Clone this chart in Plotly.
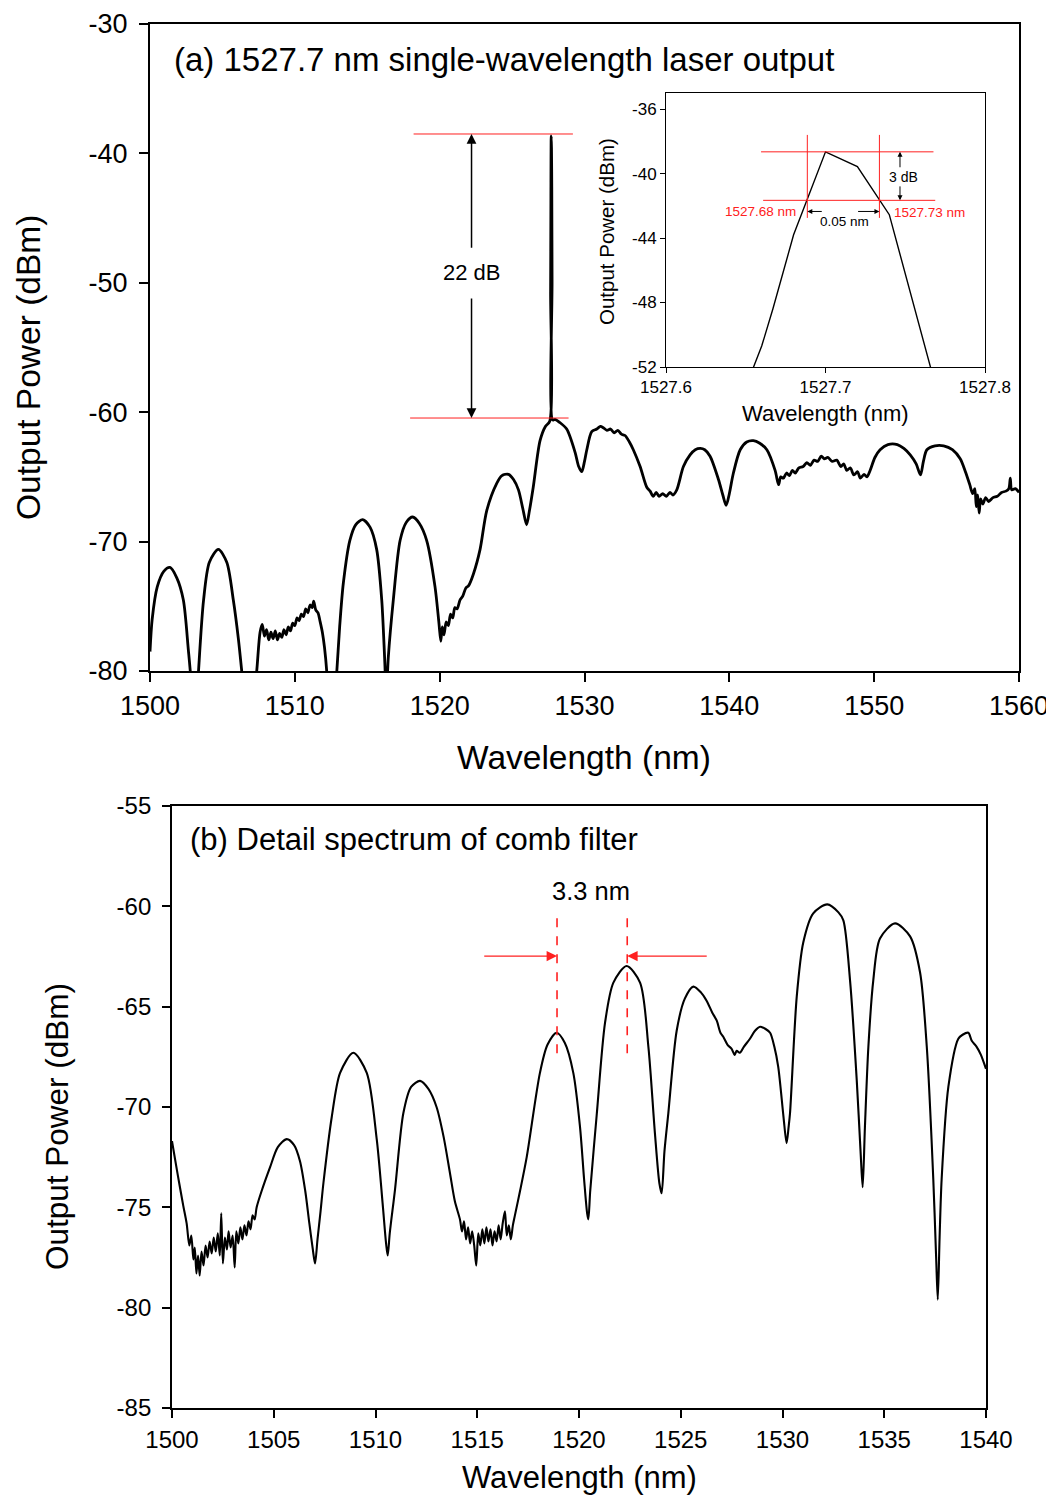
import plotly.graph_objects as go

# =========================
# DATA
# =========================
# (a) laser output spectrum, 1500-1560 nm
top_wl = [
    1500.00, 1500.15, 1500.50, 1500.95, 1501.38, 1501.85, 1502.30, 1502.65, 1502.85, 1503.05,
    1503.35, 1503.70, 1504.10, 1504.72, 1505.30, 1505.75, 1506.10, 1506.35, 1506.85, 1507.37,
    1507.60, 1507.75, 1507.90, 1508.05, 1508.20, 1508.35, 1508.50, 1508.65, 1508.80, 1508.95,
    1509.10, 1509.25, 1509.40, 1509.55, 1509.70, 1509.85, 1510.00, 1510.15, 1510.30, 1510.45,
    1510.60, 1510.75, 1510.90, 1511.05, 1511.20, 1511.30, 1511.45, 1511.60, 1511.75, 1511.90,
    1512.05, 1512.20, 1512.50, 1512.90, 1513.10, 1513.35, 1513.80, 1514.20, 1514.69, 1515.20,
    1515.65, 1516.00, 1516.20, 1516.32, 1516.45, 1516.80, 1517.27, 1517.70, 1518.14, 1518.60,
    1519.10, 1519.68, 1519.95, 1520.08, 1520.18, 1520.30, 1520.45, 1520.60, 1520.75, 1520.90,
    1521.05, 1521.20, 1521.41, 1521.60, 1521.80, 1522.00, 1522.33, 1522.79, 1523.25, 1523.94,
    1524.30, 1524.75, 1525.10, 1525.44, 1525.75, 1526.00, 1526.20, 1526.46, 1526.93, 1527.30,
    1527.60, 1527.66, 1527.68, 1527.70, 1527.72, 1527.74, 1527.76, 1527.80, 1527.95, 1528.30,
    1528.77, 1529.35, 1529.60, 1529.81, 1530.00, 1530.16, 1530.50, 1530.85, 1531.10, 1531.30,
    1531.55, 1531.80, 1532.05, 1532.30, 1532.55, 1532.80, 1533.10, 1533.37, 1533.84, 1534.30,
    1534.53, 1534.75, 1534.95, 1535.15, 1535.40, 1535.65, 1535.90, 1536.10, 1536.37, 1536.83,
    1537.29, 1537.65, 1538.00, 1538.30, 1538.67, 1539.25, 1539.55, 1539.78, 1540.00, 1540.28,
    1540.75, 1541.20, 1541.66, 1542.10, 1542.59, 1543.16, 1543.40, 1543.55, 1543.73, 1543.95,
    1544.15, 1544.35, 1544.55, 1544.80, 1545.10, 1545.35, 1545.60, 1545.85, 1546.10, 1546.35,
    1546.55, 1546.80, 1547.10, 1547.42, 1547.70, 1547.90, 1548.11, 1548.35, 1548.60, 1548.85,
    1549.05, 1549.30, 1549.50, 1549.72, 1550.05, 1550.41, 1550.95, 1551.60, 1552.05, 1552.49,
    1552.90, 1553.20, 1553.40, 1553.64, 1554.20, 1554.80, 1555.40, 1555.94, 1556.30, 1556.60,
    1556.80, 1556.95, 1557.05, 1557.15, 1557.25, 1557.35, 1557.50, 1557.70, 1557.90, 1558.20,
    1558.50, 1558.80, 1559.10, 1559.30, 1559.40, 1559.50, 1559.75, 1560.00,
]
top_pw = [
    -78.5, -76.0, -73.5, -72.3, -72.0, -72.8, -74.5, -78.4, -81.0, -86.0,
    -80.0, -74.5, -71.6, -70.6, -71.6, -74.5, -77.5, -80.2, -86.0, -80.0,
    -77.0, -76.4, -77.3, -76.8, -77.6, -77.0, -77.5, -76.9, -77.6, -77.1,
    -77.4, -76.8, -77.2, -76.6, -76.9, -76.3, -76.5, -75.9, -76.1, -75.6,
    -75.8, -75.2, -75.5, -74.9, -75.1, -74.6, -75.3, -75.5, -76.2, -77.0,
    -78.2, -80.0, -86.0, -80.0, -76.5, -73.2, -69.9, -68.7, -68.3, -68.9,
    -70.6, -74.5, -79.0, -82.0, -79.0, -74.5, -69.9, -68.5, -68.1, -68.6,
    -69.9, -73.5, -76.3, -77.7, -76.6, -77.2, -76.2, -76.5, -75.6, -75.9,
    -75.1, -75.2, -74.5, -74.2, -73.6, -73.4, -72.5, -70.6, -67.6, -65.5,
    -64.9, -64.8, -65.2, -66.0, -67.5, -68.7, -67.6, -65.8, -62.2, -61.1,
    -60.7, -50.7, -43.8, -38.65, -39.56, -42.55, -49.9, -60.6, -60.55, -60.8,
    -61.3, -63.1, -64.2, -64.6, -63.8, -62.9, -61.5, -61.3, -61.1, -61.2,
    -61.4, -61.3, -61.6, -61.4, -61.7, -61.8, -62.3, -62.9, -64.2, -65.8,
    -66.1, -66.5, -66.2, -66.5, -66.3, -66.5, -66.2, -66.4, -66.0, -64.2,
    -63.3, -62.9, -62.8, -62.9, -63.4, -65.2, -66.4, -67.2, -66.3, -64.7,
    -62.9, -62.3, -62.2, -62.4, -62.9, -64.5, -65.6, -65.0, -65.1, -64.7,
    -64.9, -64.5, -64.7, -64.3, -64.2, -63.9, -64.1, -63.7, -63.8, -63.4,
    -63.6, -63.5, -63.8, -63.7, -64.2, -64.0, -64.5, -64.3, -64.85, -64.6,
    -65.1, -64.8, -65.0, -64.5, -63.5, -62.9, -62.5, -62.5, -62.8, -63.3,
    -64.0, -64.85, -63.8, -62.9, -62.6, -62.6, -62.9, -63.6, -64.6, -65.6,
    -66.3, -65.9, -67.3, -66.4, -67.8, -66.7, -67.1, -66.6, -66.9, -66.6,
    -66.5, -66.2, -66.1, -65.9, -65.1, -66.0, -65.9, -66.2,
]

# inset: laser line around 1527.7 nm
inset_wl = [1527.640, 1527.655, 1527.660, 1527.667, 1527.680, 1527.700, 1527.720, 1527.740, 1527.760, 1527.780]
inset_pw = [-55.8, -52.0, -50.7, -48.4, -43.8, -38.65, -39.56, -42.55, -49.9, -57.2]

# (b) comb filter detail, 1500-1540 nm
bot_wl = [
    1500.00, 1500.20, 1500.39, 1500.55, 1500.72, 1500.85, 1500.95, 1501.05, 1501.12, 1501.20,
    1501.28, 1501.36, 1501.45, 1501.55, 1501.65, 1501.75, 1501.85, 1501.95, 1502.05, 1502.15,
    1502.25, 1502.35, 1502.42, 1502.50, 1502.60, 1502.70, 1502.78, 1502.88, 1502.98, 1503.08,
    1503.16, 1503.26, 1503.36, 1503.46, 1503.56, 1503.66, 1503.76, 1503.86, 1503.96, 1504.06,
    1504.16, 1504.40, 1504.82, 1505.20, 1505.64, 1506.00, 1506.29, 1506.55, 1506.75, 1506.92,
    1507.03, 1507.15, 1507.30, 1507.44, 1507.85, 1508.26, 1508.91, 1509.57, 1510.06, 1510.35,
    1510.52, 1510.60, 1510.70, 1510.96, 1511.37, 1511.75, 1512.19, 1512.60, 1513.00, 1513.35,
    1513.66, 1513.90, 1514.15, 1514.25, 1514.35, 1514.45, 1514.55, 1514.65, 1514.75, 1514.85,
    1514.95, 1515.05, 1515.15, 1515.25, 1515.35, 1515.45, 1515.55, 1515.65, 1515.75, 1515.85,
    1515.95, 1516.05, 1516.15, 1516.25, 1516.36, 1516.45, 1516.55, 1516.65, 1516.75, 1516.85,
    1517.10, 1517.43, 1518.08, 1518.45, 1518.90, 1519.30, 1519.72, 1520.05, 1520.25, 1520.40,
    1520.46, 1520.55, 1520.87, 1521.28, 1521.69, 1522.34, 1523.00, 1523.41, 1523.73, 1523.95,
    1524.06, 1524.20, 1524.39, 1524.80, 1525.20, 1525.62, 1526.00, 1526.27, 1526.55, 1526.77,
    1526.95, 1527.09, 1527.30, 1527.50, 1527.65, 1527.75, 1527.90, 1528.10, 1528.40, 1528.65,
    1528.90, 1529.15, 1529.39, 1529.60, 1529.79, 1530.05, 1530.20, 1530.30, 1530.37, 1530.70,
    1531.02, 1531.51, 1532.20, 1532.75, 1532.99, 1533.32, 1533.65, 1533.85, 1533.94, 1534.05,
    1534.22, 1534.46, 1534.79, 1535.53, 1536.27, 1536.76, 1537.09, 1537.41, 1537.55, 1537.63,
    1537.72, 1537.82, 1538.15, 1538.64, 1538.85, 1539.13, 1539.30, 1539.54, 1539.75, 1540.00,
]
bot_pw = [
    -71.7, -72.9, -74.0, -74.9, -75.8, -76.9, -76.4, -77.6, -77.0, -78.3,
    -77.4, -78.4, -77.2, -77.9, -76.9, -77.5, -76.7, -77.3, -76.5, -77.2,
    -76.3, -77.4, -75.3, -77.8, -76.5, -77.1, -76.2, -77.0, -76.4, -78.0,
    -76.2, -76.8, -76.0, -76.6, -75.9, -76.4, -75.7, -76.1, -75.4, -75.6,
    -75.0, -74.2, -73.0, -72.0, -71.6, -71.9, -72.7, -74.2, -75.8, -77.1,
    -77.8, -76.6, -75.2, -73.8, -70.5, -68.3, -67.3, -68.3, -71.6, -74.8,
    -76.8, -77.4, -76.3, -74.1, -70.3, -69.0, -68.7, -69.1, -70.0, -71.5,
    -73.3, -74.7, -75.6, -76.2, -75.7, -76.6, -76.0, -76.8, -76.2, -76.9,
    -77.9, -76.3, -76.9, -76.1, -76.8, -76.0, -76.7, -76.1, -76.9, -76.2,
    -76.7, -75.9, -76.6, -75.8, -75.2, -76.4, -75.9, -76.6, -75.9, -75.4,
    -74.2, -72.5, -68.3, -66.9, -66.3, -66.8, -68.3, -71.0, -73.6, -75.3,
    -75.6, -74.2, -70.4, -65.8, -63.8, -62.97, -63.8, -67.0, -71.3, -73.8,
    -74.3, -72.2, -70.3, -66.2, -64.6, -64.0, -64.3, -64.7, -65.3, -65.7,
    -66.3, -66.5, -66.9, -67.1, -67.4, -67.2, -67.3, -67.0, -66.6, -66.2,
    -66.0, -66.1, -66.3, -67.0, -68.0, -70.5, -71.8, -71.0, -70.3, -64.5,
    -61.8, -60.35, -59.9, -60.3, -60.7, -63.7, -68.7, -72.5, -74.0, -71.0,
    -67.0, -63.7, -61.6, -60.85, -61.5, -63.3, -67.0, -73.6, -77.5, -79.6,
    -76.5, -73.6, -69.0, -66.6, -66.4, -66.3, -66.7, -67.0, -67.4, -68.1,
]

# tick positions
top_xticks = [1500, 1510, 1520, 1530, 1540, 1550, 1560]
top_yticks = [-80, -70, -60, -50, -40, -30]
bot_xticks = [1500, 1505, 1510, 1515, 1520, 1525, 1530, 1535, 1540]
bot_yticks = [-85, -80, -75, -70, -65, -60, -55]
inset_xticks = [1527.6, 1527.7, 1527.8]
inset_yticks = [-52, -48, -44, -40, -36]

# annotation values
peak_top = -38.5
peak_floor = -60.45
fwhm_left = 1527.6886
fwhm_right = 1527.7338
fwhm_top = -38.65
fwhm_bottom = -41.66
fsr_left = 1518.92
fsr_right = 1522.37

FONT = "Liberation Sans, Arial, sans-serif"
# the page body adds an 8 px margin, so the figure is made smaller
# and every target pixel position is shifted by 8
PAGE_W, PAGE_H, OFF = 1054, 1504, 8
W, H = PAGE_W - OFF, PAGE_H - 2 * OFF


def px_x(v):
    return (v - OFF) / W


def px_y(v):
    return 1 - (v - OFF) / H


def labels(vals):
    # plain hyphen for negatives, like the original
    return [str(v) for v in vals]


# =========================
# FIGURE
# =========================
fig = go.Figure()

fig.add_trace(go.Scatter(
    x=top_wl, y=top_pw, mode="lines", xaxis="x", yaxis="y",
    line=dict(color="black", width=2.8, shape="spline", smoothing=0.8),
    showlegend=False, hoverinfo="skip",
))
fig.add_trace(go.Scatter(
    x=bot_wl, y=bot_pw, mode="lines", xaxis="x2", yaxis="y2",
    line=dict(color="black", width=2.1, shape="spline", smoothing=0.8),
    showlegend=False, hoverinfo="skip",
))
fig.add_trace(go.Scatter(
    x=inset_wl, y=inset_pw, mode="lines", xaxis="x3", yaxis="y3",
    line=dict(color="black", width=1.4),
    showlegend=False, hoverinfo="skip",
))

axis_common = dict(showgrid=False, zeroline=False, linecolor="black", mirror=True, automargin=False,
                   ticks="outside", tickcolor="black", color="black")

fig.update_layout(
    width=W, height=H,
    margin=dict(l=0, r=0, t=0, b=0, autoexpand=False),
    paper_bgcolor="white", plot_bgcolor="white",
    font=dict(family=FONT, color="black"),
    # ---- top panel ----
    xaxis=dict(domain=[px_x(150), px_x(1019)], range=[1500, 1560],
               tickvals=top_xticks, ticktext=labels(top_xticks), ticklabelstandoff=1,
               linewidth=2, tickwidth=2, ticklen=9, tickfont=dict(size=27), anchor="y", **axis_common),
    yaxis=dict(domain=[px_y(671), px_y(24)], range=[-80, -30],
               tickvals=top_yticks, ticktext=labels(top_yticks), ticklabelstandoff=6,
               linewidth=2, tickwidth=2, ticklen=9, tickfont=dict(size=27), anchor="x", **axis_common),
    # ---- bottom panel ----
    xaxis2=dict(domain=[px_x(172), px_x(986)], range=[1500, 1540],
                tickvals=bot_xticks, ticktext=labels(bot_xticks), ticklabelstandoff=1,
                linewidth=1.8, tickwidth=1.5, ticklen=8, tickfont=dict(size=24), anchor="y2", **axis_common),
    yaxis2=dict(domain=[px_y(1408), px_y(806)], range=[-85, -55],
                tickvals=bot_yticks, ticktext=labels(bot_yticks), ticklabelstandoff=6,
                linewidth=1.8, tickwidth=1.5, ticklen=8, tickfont=dict(size=24), anchor="x2", **axis_common),
    # ---- inset ----
    xaxis3=dict(domain=[px_x(666), px_x(985)], range=[1527.6, 1527.8],
                tickvals=inset_xticks, ticktext=labels(inset_xticks),
                linewidth=1, tickwidth=1, ticklen=5, tickfont=dict(size=17), anchor="y3", **axis_common),
    yaxis3=dict(domain=[px_y(367), px_y(93)], range=[-52, -35],
                tickvals=inset_yticks, ticktext=labels(inset_yticks),
                linewidth=1, tickwidth=1, ticklen=5, tickfont=dict(size=17), anchor="x3", **axis_common),
)

# =========================
# TEXT
# =========================
texts = [
    ("(a) 1527.7 nm single-wavelength laser output", 172, 60, 33, 0, "left"),
    ("Wavelength (nm)", 584, 757, 33.5, 0, "center"),
    ("Output Power (dBm)", 28, 368, 33.5, -90, "center"),
    ("(b) Detail spectrum of comb filter", 188, 840, 31, 0, "left"),
    ("Wavelength (nm)", 579, 1477, 31, 0, "center"),
    ("Output Power (dBm)", 57, 1127, 31.5, -90, "center"),
    ("Wavelength (nm)", 825, 413, 22, 0, "center"),
    ("Output Power (dBm)", 607, 232, 20.5, -90, "center"),
]
for txt, x, y, size, ang, anchor in texts:
    fig.add_annotation(text=txt, x=px_x(x), y=px_y(y), xref="paper", yref="paper",
                       xanchor=anchor, yanchor="middle", textangle=ang,
                       showarrow=False, font=dict(size=size, color="black"))

# =========================
# (a) 22 dB marker
# =========================
red = "#ff2020"
fig.add_shape(type="line", xref="x", yref="y", x0=1518.2, x1=1529.2, y0=peak_top, y1=peak_top,
              line=dict(color=red, width=1))
fig.add_shape(type="line", xref="x", yref="y", x0=1517.96, x1=1528.9, y0=peak_floor, y1=peak_floor,
              line=dict(color=red, width=1))
fig.add_annotation(text="22 dB", x=1522.2, y=-49.2, xref="x", yref="y", showarrow=False,
                   font=dict(size=22, color="black"))
for tip, tail in [(peak_top, -47.4), (peak_floor, -51.1)]:
    fig.add_annotation(x=1522.2, y=tip, ax=1522.2, ay=tail, xref="x", yref="y", axref="x", ayref="y",
                       text="", showarrow=True, arrowhead=2, arrowsize=1.3, arrowwidth=1.5,
                       arrowcolor="black")

# =========================
# inset: 3 dB bandwidth marks
# =========================
for yv, x0, x1 in [(fwhm_top, 1527.6596, 1527.7677), (fwhm_bottom, 1527.6609, 1527.7688)]:
    fig.add_shape(type="line", xref="x3", yref="y3", x0=x0, x1=x1, y0=yv, y1=yv,
                  line=dict(color=red, width=1))
for xv in [fwhm_left, fwhm_right]:
    fig.add_shape(type="line", xref="x3", yref="y3", x0=xv, x1=xv, y0=-37.6, y1=-42.75,
                  line=dict(color=red, width=1))

for tip, tail in [(fwhm_top, -39.7), (fwhm_bottom, -40.7)]:
    fig.add_annotation(x=1527.7467, y=tip, ax=1527.7467, ay=tail, xref="x3", yref="y3",
                       axref="x3", ayref="y3", text="", showarrow=True, arrowhead=2,
                       arrowsize=1, arrowwidth=1, arrowcolor="black")
fig.add_annotation(text="3 dB", x=1527.7490, y=-40.2, xref="x3", yref="y3", showarrow=False,
                   font=dict(size=14, color="black"))

for tip, tail in [(fwhm_left, 1527.6986), (fwhm_right, 1527.7195)]:
    fig.add_annotation(x=tip, y=-42.35, ax=tail, ay=-42.35, xref="x3", yref="y3",
                       axref="x3", ayref="y3", text="", showarrow=True, arrowhead=2,
                       arrowsize=1, arrowwidth=1, arrowcolor="black")
fig.add_annotation(text="0.05 nm", x=1527.7117, y=-42.95, xref="x3", yref="y3", showarrow=False,
                   font=dict(size=13.5, color="black"))
fig.add_annotation(text="1527.68 nm", x=1527.6825, y=-42.35, xref="x3", yref="y3", showarrow=False,
                   xanchor="right", font=dict(size=13.5, color=red))
fig.add_annotation(text="1527.73 nm", x=1527.7420, y=-42.4, xref="x3", yref="y3", showarrow=False,
                   xanchor="left", font=dict(size=13.5, color=red))

# =========================
# (b) 3.3 nm spacing marks
# =========================
for xv in [fsr_left, fsr_right]:
    fig.add_shape(type="line", xref="x2", yref="y2", x0=xv, x1=xv, y0=-60.6, y1=-67.4,
                  line=dict(color=red, width=1.6, dash="dash"))
for tip, tail in [(fsr_left, 1515.27), (fsr_right, 1526.35)]:
    fig.add_annotation(x=tip, y=-62.48, ax=tail, ay=-62.48, xref="x2", yref="y2",
                       axref="x2", ayref="y2", text="", showarrow=True, arrowhead=2,
                       arrowsize=1.6, arrowwidth=1.3, arrowcolor=red)
fig.add_annotation(text="3.3 nm", x=1520.6, y=-59.25, xref="x2", yref="y2", showarrow=False,
                   font=dict(size=25.5, color="black"))

fig.write_html("out.html")
